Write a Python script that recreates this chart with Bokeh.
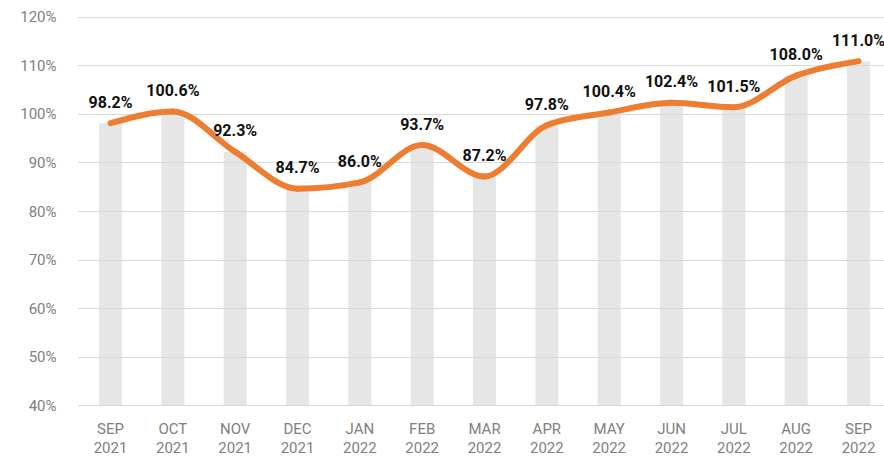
from bokeh.plotting import figure
from bokeh.models import Range1d, FixedTicker, ColumnDataSource, LinearAxis
from bokeh.embed import file_html
from bokeh.resources import INLINE
from bokeh.core.properties import value

month_names = ["SEP", "OCT", "NOV", "DEC", "JAN", "FEB", "MAR", "APR", "MAY", "JUN", "JUL", "AUG", "SEP"]
years = ["2021", "2021", "2021", "2021", "2022", "2022", "2022", "2022", "2022", "2022", "2022", "2022", "2022"]
values = [98.2, 100.6, 92.3, 84.7, 86.0, 93.7, 87.2, 97.8, 100.4, 102.4, 101.5, 108.0, 111.0]
y_ticks = [40, 50, 60, 70, 80, 90, 100, 110, 120]

xs = list(range(len(values)))
labels = [f"{v:.1f}%" for v in values]

p = figure(width=884, height=456, output_backend="svg", toolbar_location=None,
           x_range=Range1d(-0.53, 12.417), y_range=Range1d(39.8, 120.2),
           min_border_left=77, min_border_right=0, min_border_top=16, min_border_bottom=50)
p.outline_line_color = None
p.background_fill_color = "white"

# bars
bars = p.vbar(x=xs, top=values, bottom=40, width=0.37, fill_color="#e6e6e6", line_color=None)
bars.level = "image"

# smooth monotone curve (Steffen / monotoneX) drawn as cubic Bezier segments through the data
def sign(v):
    return (v > 0) - (v < 0)

n = len(values)
tangents = [0.0] * n
for i in range(1, n - 1):
    h0 = xs[i] - xs[i - 1]
    h1 = xs[i + 1] - xs[i]
    s0 = (values[i] - values[i - 1]) / h0
    s1 = (values[i + 1] - values[i]) / h1
    pp = (s0 * h1 + s1 * h0) / (h0 + h1)
    tangents[i] = (sign(s0) + sign(s1)) * min(abs(s0), abs(s1), 0.5 * abs(pp))
h = xs[1] - xs[0]
tangents[0] = (3 * (values[1] - values[0]) / h - tangents[1]) / 2
h = xs[-1] - xs[-2]
tangents[-1] = (3 * (values[-1] - values[-2]) / h - tangents[-2]) / 2

x0, y0, x1, y1, cx0, cy0, cx1, cy1 = [], [], [], [], [], [], [], []
for i in range(n - 1):
    dx = (xs[i + 1] - xs[i]) / 3
    x0.append(xs[i]); y0.append(values[i]); x1.append(xs[i + 1]); y1.append(values[i + 1])
    cx0.append(xs[i] + dx); cy0.append(values[i] + dx * tangents[i])
    cx1.append(xs[i + 1] - dx); cy1.append(values[i + 1] - dx * tangents[i + 1])
p.bezier(x0=x0, y0=y0, x1=x1, y1=y1, cx0=cx0, cy0=cy0, cx1=cx1, cy1=cy1,
         line_color="#ED7D31", line_width=6, line_cap="round", line_join="round")

src = ColumnDataSource(dict(x=xs, y=values, t=labels))
p.text(x="x", y="y", text="t", source=src, text_align="center", text_baseline="middle",
       y_offset=-21, text_font=value("Roboto"), text_font_style="bold",
       text_font_size="16px", text_color="#111111")

# axes
year_axis = LinearAxis()
p.add_layout(year_axis, "below")
p.xaxis[0].ticker = FixedTicker(ticks=xs)
p.xaxis[0].major_label_overrides = {i: m for i, m in zip(xs, month_names)}
year_axis.ticker = FixedTicker(ticks=xs)
year_axis.major_label_overrides = {i: y for i, y in zip(xs, years)}
p.yaxis.ticker = FixedTicker(ticks=y_ticks)
p.yaxis.major_label_overrides = {t: f"{t}%" for t in y_ticks}
for ax in (p.xaxis[0], year_axis, p.yaxis[0]):
    ax.axis_line_color = None
    ax.major_tick_line_color = None
    ax.minor_tick_line_color = None
    ax.major_tick_out = 0
    ax.major_tick_in = 0
    ax.minor_tick_out = 0
    ax.minor_tick_in = 0
    ax.major_label_text_font = "Roboto"
    ax.major_label_text_font_size = "15px"
    ax.major_label_text_color = "#808080"
p.yaxis.major_label_standoff = 21
p.xaxis[0].major_label_standoff = 13
year_axis.major_label_standoff = 1

p.xgrid.grid_line_color = None
p.ygrid.ticker = FixedTicker(ticks=y_ticks)
p.ygrid.grid_line_color = "#d9d9d9"
p.ygrid.grid_line_width = 1.2

open("out.html", "w").write(file_html(p, INLINE))
